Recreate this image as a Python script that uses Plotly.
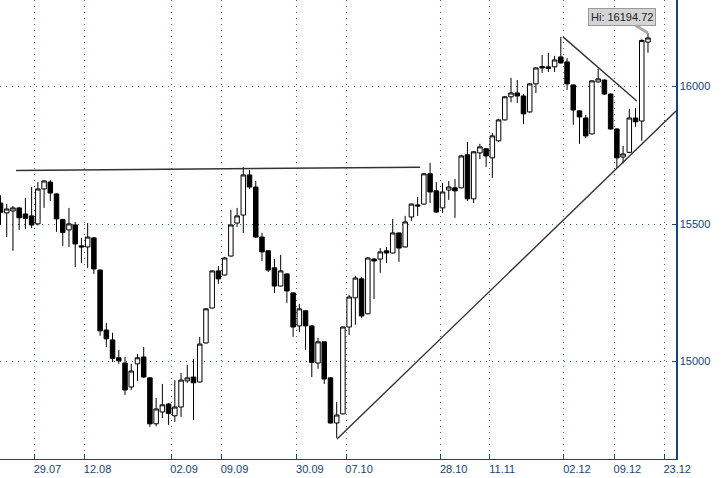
import plotly.graph_objects as go

# ---- data ----
opens = [15577, 15541, 15548, 15559, 15537, 15530, 15501, 15628, 15653, 15610,
         15517, 15479, 15497, 15421, 15417, 15450, 15333, 15115, 15079, 15014,
         14995, 14908, 14992, 15017, 14941, 14774, 14817, 14846, 14803, 14835,
         14930, 14944, 14926, 15068, 15195, 15330, 15315, 15384, 15504, 15533,
         15679, 15635, 15453, 15403, 15341, 15275, 15319, 15250, 15130, 15185,
         15130, 14995, 15072, 14941, 14777, 14810, 15126, 15232, 15301, 15174,
         15373, 15373, 15403, 15395, 15468, 15417, 15526, 15570, 15573, 15683,
         15621, 15559, 15624, 15632, 15632, 15752, 15592, 15759, 15774, 15741,
         15803, 15879, 15963, 15977, 15966, 15908, 16010, 16073, 16072, 16072,
         16108, 16090, 16006, 15912, 15886, 15828, 16017, 16024, 15973, 15846,
         15744, 15761, 15886, 15875, 16162]
highs = [15605, 15573, 15566, 15563, 15595, 15635, 15653, 15660, 15660, 15612,
         15519, 15559, 15508, 15450, 15504, 15453, 15336, 15141, 15105, 15043,
         15017, 14992, 15028, 15053, 14943, 14868, 14919, 14850, 14933, 14959,
         14988, 15010, 15090, 15195, 15332, 15348, 15381, 15552, 15559, 15708,
         15697, 15657, 15468, 15405, 15373, 15388, 15321, 15252, 15210, 15187,
         15132, 15086, 15074, 14943, 14853, 15128, 15243, 15312, 15308, 15379,
         15377, 15413, 15417, 15519, 15470, 15530, 15575, 15599, 15686, 15723,
         15653, 15650, 15657, 15664, 15752, 15799, 15766, 15792, 15776, 15832,
         15883, 15966, 16032, 16024, 15973, 16013, 16070, 16115, 16123, 16112,
         16181, 16104, 16008, 15913, 15897, 16023, 16064, 16026, 15975, 15848,
         15784, 15919, 15923, 16172, 16194.72]
lows = [15497, 15453, 15403, 15479, 15482, 15486, 15495, 15559, 15584, 15472,
        15421, 15417, 15344, 15359, 15341, 15319, 15094, 15053, 14999, 14992,
        14879, 14897, 14930, 14942, 14763, 14765, 14795, 14770, 14781, 14799,
        14923, 14788, 14924, 15066, 15193, 15283, 15313, 15382, 15490, 15468,
        15628, 15450, 15366, 15326, 15250, 15273, 15214, 15090, 15108, 15043,
        14944, 14974, 14919, 14775, 14723, 14808, 15097, 15134, 15159, 15172,
        15228, 15323, 15359, 15393, 15363, 15415, 15512, 15530, 15571, 15577,
        15541, 15541, 15588, 15523, 15630, 15584, 15577, 15737, 15708, 15668,
        15799, 15877, 15943, 15941, 15864, 15905, 15977, 16050, 16053, 16053,
        16084, 15988, 15861, 15792, 15813, 15826, 16015, 15970, 15844, 15704,
        15721, 15758, 15854, 15803, 16123]
closes = [15543, 15555, 15559, 15523, 15521, 15497, 15628, 15657, 15613, 15519,
          15470, 15501, 15428, 15417, 15453, 15337, 15112, 15083, 15012, 15003,
          14897, 14966, 15014, 14944, 14774, 14828, 14843, 14812, 14835, 14933,
          14941, 14923, 15064, 15192, 15330, 15301, 15377, 15497, 15530, 15679,
          15635, 15453, 15399, 15333, 15275, 15330, 15257, 15126, 15192, 15130,
          14997, 15072, 14937, 14777, 14806, 15126, 15235, 15304, 15166, 15377,
          15366, 15399, 15395, 15468, 15413, 15508, 15573, 15566, 15683, 15617,
          15544, 15617, 15635, 15621, 15748, 15592, 15763, 15781, 15748, 15821,
          15879, 15963, 15977, 15966, 15901, 16010, 16068, 16068, 16066, 16097,
          16086, 16010, 15915, 15890, 15821, 16021, 16028, 15973, 15846, 15741,
          15755, 15886, 15872, 16168, 16177]
days = list(range(len(opens)))

tick_labels = ["29.07", "12.08", "02.09", "09.09", "30.09", "07.10",
               "28.10", "11.11", "02.12", "09.12", "23.12"]
tick_days = [5.45, 13.5, 27.4, 35.5, 47.6, 55.5, 70.7, 78.5, 90.5, 98.6, 106.6]
price_ticks = [15000, 15500, 16000]

# hand-drawn trend lines: (day index, price)
resistance_line = [(2.5, 15695), (67.4, 15707)]
support_line = [(54.05, 14719), (108.5, 15911)]
falling_line = [(90.35, 16181), (102.2, 15948)]

NAVY = "#15437a"
GRID = "#2a64a8"
FONT = "Liberation Sans, Arial, sans-serif"

fig = go.Figure(go.Candlestick(
    x=days, open=opens, high=highs, low=lows, close=closes,
    increasing=dict(fillcolor="white", line=dict(color="black", width=1)),
    decreasing=dict(fillcolor="black", line=dict(color="black", width=1)),
    showlegend=False, hoverinfo="skip",
))

for (x0, y0), (x1, y1) in (resistance_line, support_line, falling_line):
    fig.add_shape(type="line", x0=x0, y0=y0, x1=x1, y1=y1, xref="x", yref="y",
                  line=dict(color="#333333", width=1.4), layer="above")

hi_idx = highs.index(max(highs))
fig.add_annotation(
    x=days[hi_idx], y=highs[hi_idx], text=f"Hi: {highs[hi_idx]:.2f}",
    showarrow=True, arrowhead=0, arrowwidth=3, arrowcolor="#a9a9a9",
    ax=-26, ay=-16, standoff=0,
    bgcolor="#d4d4d4", bordercolor="#9a9a9a", borderwidth=1, borderpad=2,
    font=dict(family=FONT, size=11, color="#222222"),
)

fig.update_layout(
    width=724, height=478,
    margin=dict(l=0, r=48, t=0, b=19, autoexpand=False),
    paper_bgcolor="white", plot_bgcolor="white",
    boxgap=0.15, boxgroupgap=0.15,
    showlegend=False,
    xaxis=dict(
        range=[-0.08, 108.5], rangeslider=dict(visible=False),
        tickmode="array", tickvals=tick_days, ticktext=tick_labels,
        ticklabelshift=13,
        showgrid=True, gridcolor=GRID, gridwidth=1, griddash="1px,5px",
        showline=True, linecolor=NAVY, linewidth=1,
        ticks="inside", ticklen=5, tickcolor=NAVY,
        tickfont=dict(family=FONT, size=11, color=NAVY),
        zeroline=False, fixedrange=True, automargin=False,
    ),
    yaxis=dict(
        side="right", range=[14646, 16315],
        tickmode="array", tickvals=price_ticks,
        ticktext=[str(v) for v in price_ticks],
        showgrid=True, gridcolor=GRID, gridwidth=1, griddash="1px,5px",
        showline=True, linecolor=NAVY, linewidth=1.5,
        ticks="inside", ticklen=4, tickcolor=NAVY,
        tickfont=dict(family=FONT, size=11, color=NAVY),
        zeroline=False, fixedrange=True, automargin=False,
    ),
)

fig.write_html(
    "out.html",
    config={"displayModeBar": False, "staticPlot": True},
    post_script="document.body.style.margin='0';document.body.style.overflow='hidden';",
)
